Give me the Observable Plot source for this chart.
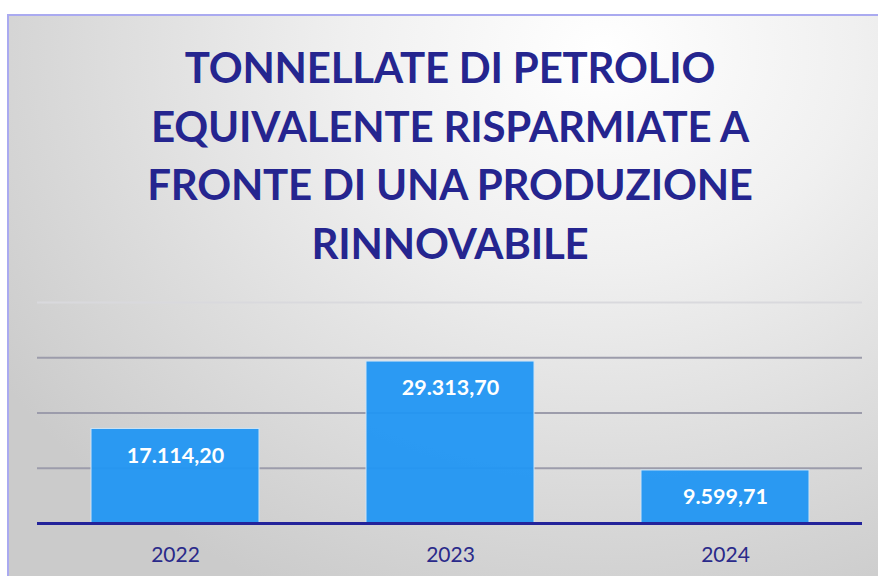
<!DOCTYPE html>
<html>
<head>
<meta charset="utf-8">
<script src="https://cdn.jsdelivr.net/npm/d3@7"></script>
<script src="https://cdn.jsdelivr.net/npm/@observablehq/plot@0.6"></script>
<style>
  html, body { margin: 0; padding: 0; background: #ffffff; }
  #wrap { position: relative; width: 878px; height: 576px; overflow: hidden; background: #fff; }
  #frame {
    position: absolute; left: 7px; top: 14px; width: 900px; height: 600px;
    border-left: 2px solid #aaaaf0; border-top: 2px solid #aaaaf0;
    background: radial-gradient(ellipse 80% 100% at 66% 6%, #ffffff 0%, #f0f0f0 35%, #dcdcdc 70%, #cbcbcb 100%);
  }
  #title {
    position: absolute; left: 0; width: 900px; top: 38px;
    text-align: center; font-family: Lato, "Open Sans", sans-serif; font-weight: 700;
    font-size: 42px; line-height: 58.5px; color: #25258f; letter-spacing: -0.2px;
  }
  #chart { position: absolute; left: 0; top: 280px; }
</style>
</head>
<body>
<div id="wrap">
  <div id="frame"></div>
  <div id="title">TONNELLATE DI PETROLIO<br>EQUIVALENTE RISPARMIATE A<br>FRONTE DI UNA PRODUZIONE<br>RINNOVABILE</div>
  <div id="chart"></div>
</div>
<script>
const years = ["2022", "2023", "2024"];
const values = [17114.20, 29313.70, 9599.71];
const gridTicks = [10000, 20000, 30000, 40000];

const data = years.map((y, i) => ({year: y, value: values[i]}));
const it = d3.formatLocale({decimal: ",", thousands: ".", grouping: [3], currency: ["", " €"]});
const fmt = it.format(",.2f");

const chart = Plot.plot({
  width: 878,
  height: 296,
  marginLeft: 37,
  marginRight: 16,
  marginTop: 22,
  marginBottom: 53,
  style: {background: "transparent", fontFamily: "Lato, 'Open Sans', sans-serif"},
  x: {domain: years, paddingInner: 0.39, paddingOuter: 0.195, label: null},
  y: {domain: [0, 40000], axis: null},
  marks: [
    Plot.ruleY(gridTicks, {stroke: d => d === 40000 ? "#d9d9dd" : "#9c9cab", strokeWidth: 2}),
    Plot.barY(data, {x: "year", y: "value", fill: "#2196f3", fillOpacity: 0.95, stroke: "#cfe4f5", strokeWidth: 1}),
    Plot.ruleY([0], {stroke: "#23239a", strokeWidth: 3}),
    Plot.text(data, {x: "year", y: "value", text: d => fmt(d.value), dy: 27, fill: "#ffffff", fontSize: 21.5, fontWeight: "bold"}),
    Plot.axisX({tickSize: 0, tickPadding: 24, fontSize: 21, color: "#2a2a8a", fill: "#2a2a8a"})
  ]
});
document.getElementById("chart").appendChild(chart);
</script>
</body>
</html>
